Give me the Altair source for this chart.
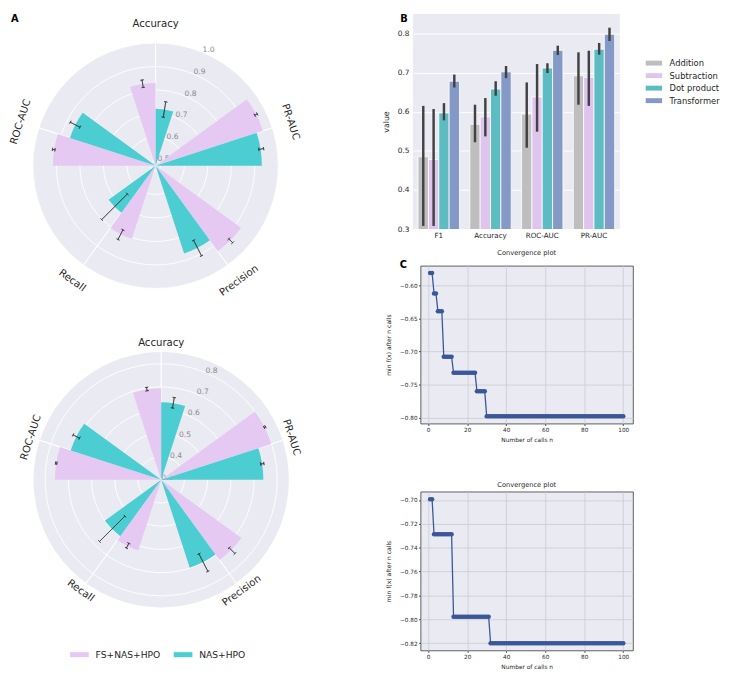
import math
import altair as alt
import pandas as pd

FONT = "DejaVu Sans"
TXT = "#262626"
BG = "#EAEAF2"

# ---------------- Panel A data (radial bar charts) ----------------
polar_metrics = ["Accuracy", "PR-AUC", "Precision", "Recall", "ROC-AUC"]
polar_groups = ["FS+NAS+HPO", "NAS+HPO"]
polar_colors = ["#E6C9F3", "#4BCDD1"]

# top chart
a1_fs = [0.830, 0.958, 0.927, 0.805, 0.915]
a1_fs_lo = [0.815, 0.951, 0.918, 0.784, 0.911]
a1_fs_hi = [0.847, 0.963, 0.941, 0.830, 0.922]
a1_nas = [0.720, 0.930, 0.870, 0.725, 0.861]
a1_nas_lo = [0.687, 0.922, 0.834, 0.648, 0.839]
a1_nas_hi = [0.753, 0.943, 0.908, 0.802, 0.885]
a1_ticks = [0.5, 0.6, 0.7, 0.8, 0.9, 1.0]
a1_tick_labels = ["0.5", "0.6", "0.7", "0.8", "0.9", "1.0"]

# bottom chart
a2_fs = [0.694, 0.800, 0.727, 0.620, 0.758]
a2_fs_lo = [0.688, 0.797, 0.714, 0.607, 0.755]
a2_fs_hi = [0.703, 0.804, 0.749, 0.630, 0.761]
a2_nas = [0.634, 0.740, 0.698, 0.600, 0.710]
a2_nas_lo = [0.613, 0.734, 0.658, 0.521, 0.695]
a2_nas_hi = [0.659, 0.748, 0.743, 0.676, 0.726]
a2_ticks = [0.3, 0.4, 0.5, 0.6, 0.7, 0.8]
a2_tick_labels = ["0.3", "0.4", "0.5", "0.6", "0.7", "0.8"]

# ---------------- Panel B data (grouped bars) ----------------
bar_metrics = ["F1", "Accuracy", "ROC-AUC", "PR-AUC"]
bar_methods = ["Addition", "Subtraction", "Dot product", "Transformer"]
bar_colors = ["#BEBEBE", "#DFC4EE", "#5CBCC2", "#8599C7"]
addition_mean = [0.485, 0.568, 0.594, 0.692]
addition_lo = [0.308, 0.522, 0.508, 0.618]
addition_hi = [0.615, 0.618, 0.675, 0.752]
subtraction_mean = [0.478, 0.587, 0.638, 0.688]
subtraction_lo = [0.308, 0.537, 0.549, 0.615]
subtraction_hi = [0.607, 0.635, 0.722, 0.756]
dot_mean = [0.597, 0.658, 0.712, 0.760]
dot_lo = [0.578, 0.641, 0.699, 0.746]
dot_hi = [0.622, 0.678, 0.724, 0.776]
transformer_mean = [0.678, 0.702, 0.757, 0.798]
transformer_lo = [0.662, 0.686, 0.745, 0.781]
transformer_hi = [0.695, 0.717, 0.769, 0.815]
bar_y_ticks = [0.3, 0.4, 0.5, 0.6, 0.7, 0.8]

# ---------------- Panel C data (convergence) ----------------
c1_levels = [-0.581, -0.612, -0.639, -0.708, -0.732, -0.760, -0.798]
c1_runs = [2, 2, 3, 5, 12, 5, 71]
c1_y_ticks = [-0.80, -0.75, -0.70, -0.65, -0.60]
c2_levels = [-0.6995, -0.7288, -0.7978, -0.8200]
c2_runs = [2, 10, 19, 69]
c2_y_ticks = [-0.82, -0.80, -0.78, -0.76, -0.74, -0.72, -0.70]
conv_x_ticks = [0, 20, 40, 60, 80, 100]
CONV_BLUE = "#3B5699"


def polar_panel(fs, fs_lo, fs_hi, nas, nas_lo, nas_hi, r_lo, r_hi, R,
                ticks, tick_labels, label_r, W, H, legend, letter=None):
    n = len(polar_metrics)
    step = 360.0 / n
    bw = step / 4.0
    ts = alt.Scale(domain=[0, 360], range=[0, 2 * math.pi])
    rs = alt.Scale(type="linear", domain=[r_lo, r_hi], range=[0, R], zero=False)
    cs = alt.Scale(domain=polar_groups, range=polar_colors)

    def px(v):
        return (v - r_lo) / (r_hi - r_lo) * R

    cap_px = 1.7
    bars, errs, caps, cats = [], [], [], []
    for i, m in enumerate(polar_metrics):
        a = i * step
        rot = a if (a <= 90 or a >= 270) else (a - 180) % 360
        cats.append({"metric": m, "a": a, "rot": rot})
        specs = [(polar_groups[0], fs[i], fs_lo[i], fs_hi[i], (a - bw) % 360),
                 (polar_groups[1], nas[i], nas_lo[i], nas_hi[i], a)]
        for g, v, lo, hi, t0 in specs:
            bars.append({"metric": m, "group": g, "t0": t0, "t1": t0 + bw, "v": v})
            mid = t0 + bw / 2
            errs.append({"mid": mid, "lo": lo, "hi": hi})
            for r in (lo, hi):
                d = math.degrees(cap_px / max(px(r), 3.0))
                caps.append({"c0": mid - d, "c1": mid + d, "r": r})

    df_bars = pd.DataFrame(bars)
    df_errs = pd.DataFrame(errs)
    df_caps = pd.DataFrame(caps)
    df_cats = pd.DataFrame(cats)
    df_ticks = pd.DataFrame({"v": ticks, "label": tick_labels,
                             "t0": [0.0] * len(ticks), "t1": [360.0] * len(ticks),
                             "a": [22.5] * len(ticks)})
    df_bg = pd.DataFrame({"t0": [0.0], "t1": [360.0], "r": [r_hi]})
    df_spokes = pd.DataFrame({"a": [i * step for i in range(n)], "r": [r_hi] * n})

    bg = alt.Chart(df_bg).mark_arc(color=BG).encode(
        theta=alt.Theta("t0:Q", scale=ts, stack=False), theta2="t1:Q",
        radius=alt.Radius("r:Q", scale=rs))
    grid = alt.Chart(df_ticks).mark_arc(fillOpacity=0, stroke="white", strokeWidth=0.9).encode(
        theta=alt.Theta("t0:Q", scale=ts, stack=False), theta2="t1:Q",
        radius=alt.Radius("v:Q", scale=rs))
    spokes = alt.Chart(df_spokes).mark_arc(fillOpacity=0, stroke="white", strokeWidth=0.9).encode(
        theta=alt.Theta("a:Q", scale=ts, stack=False), theta2="a:Q",
        radius=alt.Radius("r:Q", scale=rs))
    rlabels = alt.Chart(df_ticks).mark_text(
        align="left", baseline="alphabetic", fontSize=7.7, color="#8a8a8a", font=FONT).encode(
        theta=alt.Theta("a:Q", scale=ts, stack=False),
        radius=alt.Radius("v:Q", scale=rs), text="label:N")
    bar_layer = alt.Chart(df_bars).mark_arc().encode(
        theta=alt.Theta("t0:Q", scale=ts, stack=False), theta2="t1:Q",
        radius=alt.Radius("v:Q", scale=rs),
        color=alt.Color("group:N", scale=cs, legend=legend))
    err_layer = alt.Chart(df_errs).mark_arc(fillOpacity=0, stroke="#2a2a2a", strokeWidth=0.6).encode(
        theta=alt.Theta("mid:Q", scale=ts, stack=False), theta2="mid:Q",
        radius=alt.Radius("hi:Q", scale=rs), radius2="lo:Q")
    cap_layer = alt.Chart(df_caps).mark_arc(fillOpacity=0, stroke="#2a2a2a", strokeWidth=0.6).encode(
        theta=alt.Theta("c0:Q", scale=ts, stack=False), theta2="c1:Q",
        radius=alt.Radius("r:Q", scale=rs), radius2="r:Q")
    cat_layer = alt.Chart(df_cats).mark_text(
        fontSize=10.3, color=TXT, font=FONT, align="center", baseline="middle").encode(
        theta=alt.Theta("a:Q", scale=ts, stack=False),
        radius=alt.value(label_r), text="metric:N",
        angle=alt.Angle("rot:Q", scale=None))
    layers = [bg, grid, spokes, rlabels, bar_layer, err_layer, cap_layer, cat_layer]
    if letter:
        layers.append(alt.Chart(pd.DataFrame({"t": [letter]})).mark_text(
            fontSize=10, fontWeight="bold", color="black", font=FONT,
            align="left", baseline="top").encode(
            text="t:N", x=alt.value(0), y=alt.value(0)))
    return alt.layer(*layers).properties(width=W, height=H)


polar_legend = alt.Legend(
    orient="none", legendX=64.75, legendY=328, direction="horizontal", title=None,
    symbolType="M-2,-0.54H2V0.54H-2Z", symbolSize=90.25, symbolStrokeWidth=0,
    labelFontSize=9.3, labelColor=TXT, labelFont=FONT, labelOffset=11.45,
    columnPadding=12.5, padding=0, labelLimit=300)

p1 = polar_panel(a1_fs, a1_fs_lo, a1_fs_hi, a1_nas, a1_nas_lo, a1_nas_hi,
                 0.478, 1.0, 125.0, a1_ticks, a1_tick_labels, 144.5, 294.6, 309, None, "A")
p2 = polar_panel(a2_fs, a2_fs_lo, a2_fs_hi, a2_nas, a2_nas_lo, a2_nas_hi,
                 0.30, 0.85, 130.0, a2_ticks, a2_tick_labels, 139.5, 306, 310.6, polar_legend)

# ---------------- Panel B ----------------
means = [addition_mean, subtraction_mean, dot_mean, transformer_mean]
los = [addition_lo, subtraction_lo, dot_lo, transformer_lo]
his = [addition_hi, subtraction_hi, dot_hi, transformer_hi]
brows = []
for k, meth in enumerate(bar_methods):
    for j, m in enumerate(bar_metrics):
        brows.append({"metric": m, "method": meth, "mean": means[k][j],
                      "lo": los[k][j], "hi": his[k][j]})
df_b = pd.DataFrame(brows)

bx = alt.X("metric:N", sort=bar_metrics,
           scale=alt.Scale(paddingInner=0.2, paddingOuter=0.1),
           axis=alt.Axis(title=None, labelAngle=0, labelFontSize=7.3, labelColor=TXT,
                         labelFont=FONT, domain=False, ticks=False, labelPadding=3, grid=False))
bxo = alt.XOffset("method:N", sort=bar_methods, scale=alt.Scale(paddingInner=0, paddingOuter=0))
by = alt.Y("mean:Q", scale=alt.Scale(domain=[0.3, 0.85], zero=False, nice=False),
           axis=alt.Axis(values=bar_y_ticks, format=".1f", title="value", titleFontSize=8,
                         titleFontWeight="normal", titleColor=TXT, titleFont=FONT,
                         titlePadding=6.5, labelFontSize=7.5, labelColor=TXT, labelFont=FONT,
                         domain=False, ticks=False, labelPadding=4,
                         grid=True, gridColor="white", gridWidth=1))
bar_legend = alt.Legend(
    orient="none", legendX=240.9, legendY=45.5, title=None,
    symbolType="M-2,-0.6H2V0.6H-2Z", symbolSize=69.7, symbolStrokeWidth=0,
    labelFontSize=8.5, labelColor=TXT, labelFont=FONT, labelOffset=11.45,
    rowPadding=3.75, padding=0, labelLimit=300)
b_bars = alt.Chart(df_b).mark_bar(stroke="white", strokeWidth=0.8, clip=True).encode(
    x=bx, xOffset=bxo, y=by,
    color=alt.Color("method:N", sort=bar_methods,
                    scale=alt.Scale(domain=bar_methods, range=bar_colors), legend=bar_legend))
b_err = alt.Chart(df_b).mark_rule(color="#424242", strokeWidth=2.5).encode(
    x=bx, xOffset=bxo, y=alt.Y("lo:Q"), y2="hi:Q")
b_letter = alt.Chart(pd.DataFrame({"t": ["B"]})).mark_text(
    fontSize=10, fontWeight="bold", color="black", font=FONT, align="left", baseline="top").encode(
    text="t:N", x=alt.value(-13), y=alt.value(0))
bar_chart = alt.layer(b_bars, b_err, b_letter).properties(
    width=210.7, height=219, view=alt.ViewBackground(fill=BG))


# ---------------- Panel C ----------------
def conv_panel(levels, runs, ydomain, yticks, H, letter=None):
    xs, ys = [], []
    n = 1
    for lv, rn in zip(levels, runs):
        for _ in range(rn):
            xs.append(n)
            ys.append(lv)
            n += 1
    df = pd.DataFrame({"n": xs, "v": ys})
    base = alt.Chart(df).encode(
        x=alt.X("n:Q", scale=alt.Scale(domain=[-3.95, 104.95], nice=False, zero=False),
                axis=alt.Axis(values=conv_x_ticks, format="d", labelFontSize=5.8,
                              labelColor=TXT, labelFont=FONT, tickSize=2, tickColor="#4d4d4d",
                              labelPadding=1.5, domain=False, grid=True, gridColor="#CBCBD2",
                              gridWidth=0.8, title="Number of calls n", titleFontSize=6,
                              titleFontWeight="normal", titleColor=TXT, titleFont=FONT,
                              titlePadding=4.5)),
        y=alt.Y("v:Q", scale=alt.Scale(domain=ydomain, nice=False, zero=False),
                axis=alt.Axis(values=yticks, format=".2f", labelFontSize=5.8,
                              labelColor=TXT, labelFont=FONT, tickSize=2, tickColor="#4d4d4d",
                              labelPadding=1.5, domain=False, grid=True, gridColor="#CBCBD2",
                              gridWidth=0.8, title="min f(x) after n calls", titleFontSize=6.2,
                              titleFontWeight="normal", titleColor=TXT, titleFont=FONT,
                              titlePadding=8.5)))
    line = base.mark_line(color=CONV_BLUE, strokeWidth=1.3)
    pts = base.mark_circle(color=CONV_BLUE, size=21, opacity=1)
    layers = [line, pts]
    if letter:
        layers.append(alt.Chart(pd.DataFrame({"t": [letter]})).mark_text(
            fontSize=10, fontWeight="bold", color="black", font=FONT,
            align="left", baseline="top").encode(text="t:N", x=alt.value(-21), y=alt.value(-6)))
    return alt.layer(*layers).properties(
        width=216.3, height=H,
        title=alt.TitleParams(text="Convergence plot", fontSize=6.8, fontWeight="normal",
                              color=TXT, font=FONT, offset=3, frame="group"),
        view=alt.ViewBackground(fill=BG, stroke="#4d4d4d", strokeWidth=0.9))


c1 = conv_panel(c1_levels, c1_runs, [-0.809, -0.570], c1_y_ticks, 160.7, "C")
c2 = conv_panel(c2_levels, c2_runs, [-0.826, -0.693], c2_y_ticks, 161.7)

spacer = alt.Chart(pd.DataFrame({"s": [0]})).mark_point(opacity=0).encode(
    x=alt.value(0), y=alt.value(0)).properties(width=1, height=1)

RES = dict(color="independent", x="independent", y="independent",
           radius="independent", theta="independent")

left = alt.vconcat(p1, p2, spacing=10, bounds="flush").resolve_scale(**RES)
conv_col = alt.vconcat(c1, c2, spacing=69, bounds="flush").resolve_scale(**RES)
conv_row = alt.hconcat(spacer, conv_col, spacing=6.7, bounds="flush").resolve_scale(**RES)
right = alt.vconcat(bar_chart, conv_row, spacing=37.3, bounds="flush").resolve_scale(**RES)

# with flush bounds a nested column counts as zero width, so the spacing carries the offset
chart = alt.hconcat(left, right, spacing=409.3, bounds="flush").resolve_scale(**RES).properties(
    padding=0).configure(font=FONT).configure_view(stroke=None)

chart.save("out.html", embed_options={"renderer": "svg", "actions": False})
